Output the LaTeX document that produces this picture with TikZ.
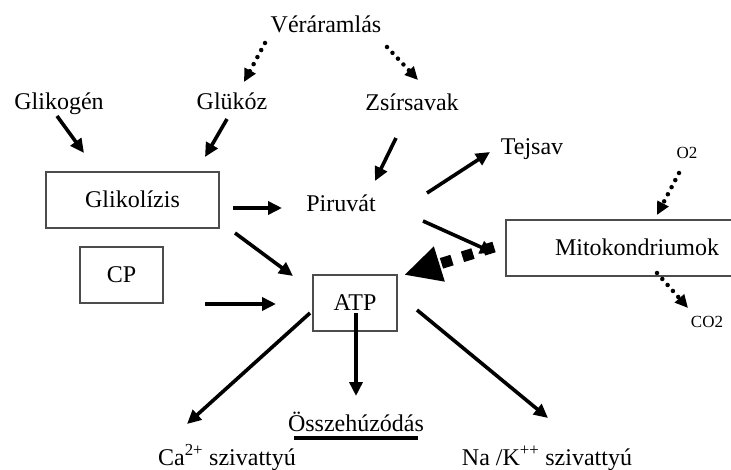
\documentclass[tikz,border=0pt]{standalone}
\usepackage{fontspec}
\setmainfont{Liberation Serif}
\usetikzlibrary{arrows.meta}
\begin{document}
\begin{tikzpicture}[x=1pt,y=-1pt,
  lbl/.style={font=\fontsize{24}{28}\selectfont, inner sep=0pt, anchor=base},
  small/.style={font=\fontsize{17}{19}\selectfont, inner sep=0pt, anchor=base},
  box/.style={draw=black!70, line width=1.6pt, font=\fontsize{24}{28}\selectfont, inner sep=0pt, text height=16pt, text depth=0pt},
  arr/.style={line width=3.6pt, -{Triangle[length=14pt,width=13pt]}},
  dotarr/.style={line width=4.5pt, line cap=round, dash pattern=on 0pt off 8pt, -{Triangle[length=13pt,width=12pt]}},
  bigdash/.style={line width=11pt, dash pattern=on 11pt off 11pt, -{Triangle[length=37pt,width=34pt]}}
]
\useasboundingbox (0,0) rectangle (731,470);

% text labels
\node[lbl] (ver) at (326,33) {Véráramlás};
\node[lbl] (glikogen) at (59,110) {Glikogén};
\node[lbl] (glukoz) at (232,110) {Glükóz};
\node[lbl] (zsir) at (412,111) {Zsírsavak};
\node[lbl] (tejsav) at (532,155) {Tejsav};
\node[lbl] (piruvat) at (341,212) {Piruvát};
\node[small] (o2) at (687,159) {O2};
\node[small] (co2) at (707,327) {CO2};
\node[lbl] (ossze) at (356,431) {Összehúzódás};
\node[lbl] (ca) at (227,465) {Ca\textsuperscript{2+} szivattyú};
\node[lbl] (na) at (547,465) {Na /K\textsuperscript{++} szivattyú};

% boxes
\node[box, minimum width=173pt, minimum height=56pt] (glik) at (132.5,200) {Glikolízis};
\node[box, minimum width=83pt, minimum height=56pt] (cp) at (121.5,275) {CP};
\node[box, minimum width=84pt, minimum height=56pt] (atp) at (355,303) {ATP};
\node[box, minimum width=262pt, minimum height=56pt] (mito) at (637,248) {Mitokondriumok};

% connector end points
\coordinate (v1) at (265,43);  \coordinate (v1e) at (244,82);
\coordinate (v2) at (387,47);  \coordinate (v2e) at (418,80);
\coordinate (g1) at (57,116);  \coordinate (g1e) at (84,153);
\coordinate (g2) at (227,119); \coordinate (g2e) at (205,157);
\coordinate (z1) at (396,138); \coordinate (z1e) at (375,181);
\coordinate (t1) at (427,193); \coordinate (t1e) at (490,152);
\coordinate (p1) at (233,208); \coordinate (p1e) at (282,208);
\coordinate (a1) at (235,233); \coordinate (a1e) at (293,276);
\coordinate (c1) at (205,304); \coordinate (c1e) at (276,304);
\coordinate (m1) at (423,221); \coordinate (m1e) at (494,253);
\coordinate (m2) at (494,247); \coordinate (m2e) at (404,275);
\coordinate (o1) at (679,173); \coordinate (o1e) at (657,215);
\coordinate (k1) at (657,273); \coordinate (k1e) at (688,308);
\coordinate (x1) at (310,313); \coordinate (x1e) at (187,424);
\coordinate (x2) at (356,313); \coordinate (x2e) at (356,396);
\coordinate (x3) at (417,310); \coordinate (x3e) at (548,418);
\coordinate (u1) at (294,438); \coordinate (u2) at (418,438);

% connectors
\draw[dotarr] (v1) -- (v1e);
\draw[dotarr] (v2) -- (v2e);
\draw[arr] (g1) -- (g1e);
\draw[arr] (g2) -- (g2e);
\draw[arr] (z1) -- (z1e);
\draw[arr] (t1) -- (t1e);
\draw[arr] (p1) -- (p1e);
\draw[arr] (a1) -- (a1e);
\draw[arr] (c1) -- (c1e);
\draw[arr] (m1) -- (m1e);
\draw[bigdash] (m2) -- (m2e);
\draw[dotarr] (o1) -- (o1e);
\draw[dotarr] (k1) -- (k1e);
\draw[arr] (x1) -- (x1e);
\draw[arr] (x2) -- (x2e);
\draw[arr] (x3) -- (x3e);
\draw[line width=4pt] (u1) -- (u2);
\end{tikzpicture}
\end{document}
